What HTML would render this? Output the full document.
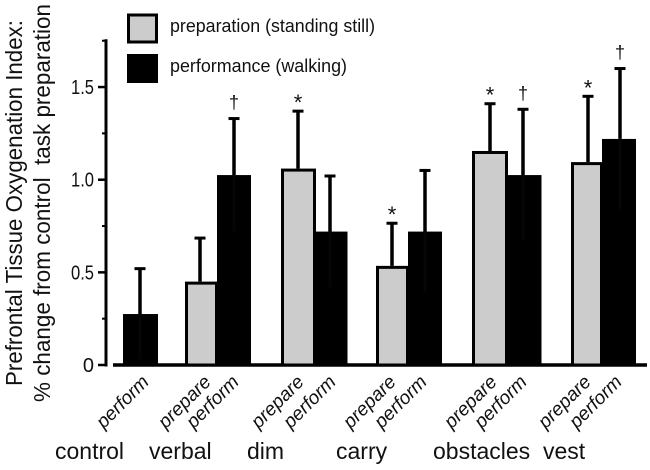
<!DOCTYPE html>
<html>
<head>
<meta charset="utf-8">
<style>
html,body{margin:0;padding:0;background:#fff;width:650px;height:470px;overflow:hidden}
svg{display:block}
text{font-family:"Liberation Sans",sans-serif;fill:#111}
</style>
</head>
<body>
<svg id="chart" xmlns="http://www.w3.org/2000/svg" width="650" height="470" viewBox="0 0 650 470">
  <g>
    <text transform="translate(22,386) rotate(-90)" font-size="23" textLength="366" lengthAdjust="spacingAndGlyphs">Prefrontal Tissue Oxygenation Index:</text>
    <text transform="translate(50,402) rotate(-90)" font-size="23" textLength="398" lengthAdjust="spacingAndGlyphs" xml:space="preserve">% change from control  task preparation</text>
  </g>
  <g>
    <rect x="128.5" y="15" width="28" height="27" fill="#ccc" stroke="#000" stroke-width="3"/>
    <text x="170" y="32" font-size="18" textLength="205" lengthAdjust="spacingAndGlyphs">preparation (standing still)</text>
    <rect x="127" y="54" width="31" height="29" fill="#000"/>
    <text x="170" y="72" font-size="18" textLength="177" lengthAdjust="spacingAndGlyphs">performance (walking)</text>
  </g>
  <g id="axes"></g>
  <g id="bars"></g>
  <g id="labels"></g>
</svg>
<script>
const categories = ['control', 'verbal', 'dim', 'carry', 'obstacles', 'vest'];
const prepareValues = [null, 0.45, 1.06, 0.535, 1.155, 1.095];
const prepareErrorTops = [null, 0.685, 1.37, 0.765, 1.41, 1.45];
const performValues = [0.275, 1.025, 0.72, 0.72, 1.025, 1.22];
const performErrorTops = [0.52, 1.33, 1.02, 1.05, 1.38, 1.6];
const prepareMarks = ['', '', '*', '*', '*', '*'];
const performMarks = ['', '†', '', '', '†', '†'];
const yTickLabels = ['0', '0.5', '1.0', '1.5'];
const yTickValues = [0, 0.5, 1.0, 1.5];
const yMinorTicks = [0.25, 0.75, 1.25, 1.75];

const NS = 'http://www.w3.org/2000/svg';
const groupJunction = [123, 217, 315, 408, 507, 602];
const prepBarOuterWidth = [0, 32, 34, 32, 35, 31];
const perfBarWidth = [35, 34, 32.5, 34, 34.5, 34];
const prepErrNudge = [0, 0, 0, 1, 0, 3];
const perfErrNudge = [0, 0, -2, 0, -1, 1];
const groupLabelX = [55, 149, 247, 336, 433, 543];
const prepLabelShift = [0, 12, 7, 6, 8, 7];
const perfLabelShift = [10, 6, 5, 3, 4, 4];
const y = v => 365 - v * 185.3;
function mk(parent, tag, attrs, text) {
  const el = document.createElementNS(NS, tag);
  for (const k in attrs) el.setAttribute(k, attrs[k]);
  if (text !== undefined) el.textContent = text;
  parent.appendChild(el);
  return el;
}
const axes = document.getElementById('axes');
const bars = document.getElementById('bars');
const labels = document.getElementById('labels');

const yLine = mk(axes, 'line', {x1: 106, x2: 106, y1: y(1.75) - 1.5, y2: y(0) + 1.5, stroke: '#000', 'stroke-width': 3});


const xLine = mk(axes, 'line', {x1: 113, x2: 647, y1: y(0), y2: y(0), stroke: '#000', 'stroke-width': 3.5});


yTickValues.forEach((v, i) => {
  const t = mk(axes, 'line', {x1: 98, x2: 106, y1: y(v), y2: y(v), stroke: '#000', 'stroke-width': 2.5});
  
  
  const attrs = {x: 94, y: y(v) + 7, 'text-anchor': 'end', 'font-size': 20};
  if (yTickLabels[i].length > 1) {
    attrs.textLength = 23;
    attrs.lengthAdjust = 'spacingAndGlyphs';
  }
  const l = mk(axes, 'text', attrs, yTickLabels[i]);
  
  
});
yMinorTicks.forEach(v => {
  const t = mk(axes, 'line', {x1: 102, x2: 106, y1: y(v), y2: y(v), stroke: '#000', 'stroke-width': 2});
  
  
});

function errorBar(cx, top, value) {
  const line = mk(bars, 'line', {x1: cx, x2: cx, y1: y(top), y2: y(value), stroke: '#000', 'stroke-width': 3.5});
  
  
  const cap = mk(bars, 'line', {x1: cx - 5.5, x2: cx + 5.5, y1: y(top), y2: y(top), stroke: '#000', 'stroke-width': 3});
  
  
}
function marker(cx, top, glyph) {
  if (!glyph) return;
  const isStar = glyph === '*';
  const m = mk(bars, 'text', {x: cx, y: y(top) + (isStar ? -1 : -10), 'text-anchor': 'middle', 'font-size': isStar ? 22 : 18}, glyph);
  
  
}
function slanted(x, word) {
  const yb = 383;
  const t = mk(labels, 'text', {x: x, y: yb, 'text-anchor': 'end', 'font-size': 19, 'font-style': 'italic', transform: 'rotate(-45 ' + x + ' ' + yb + ')'}, word);
  
  
}
categories.forEach((name, i) => {
  const j = groupJunction[i];
  if (prepareValues[i] !== null) {
    const cx = j - 17;
    const ex = cx + prepErrNudge[i];
    const top = y(prepareValues[i]) + 1.5;
    errorBar(ex, prepareErrorTops[i], prepareValues[i]);
    const w = prepBarOuterWidth[i];
    const r = mk(bars, 'rect', {x: j - w + 1.5, y: top, width: w - 2, height: y(0) - top, fill: '#ccc', stroke: '#000', 'stroke-width': 3});
    
    
    marker(ex, prepareErrorTops[i], prepareMarks[i]);
    slanted(cx + prepLabelShift[i], 'prepare');
  }
  const px = j + 17;
  const ex2 = px + perfErrNudge[i];
  errorBar(ex2, performErrorTops[i], performValues[i]);
  const b = mk(bars, 'rect', {x: j, y: y(performValues[i]), width: perfBarWidth[i], height: y(0) - y(performValues[i]), fill: '#000'});
  
  
  const low = 2 * performValues[i] - performErrorTops[i];
  const inner = mk(bars, 'line', {x1: ex2, x2: ex2, y1: y(performValues[i]), y2: y(Math.max(low, 0)), stroke: '#060606', 'stroke-width': 3});
  
  
  marker(ex2, performErrorTops[i], performMarks[i]);
  slanted(px + perfLabelShift[i], 'perform');
  const g = mk(labels, 'text', {x: groupLabelX[i], y: 459, 'font-size': 23}, name);
  
  
});
</script>
</body>
</html>
